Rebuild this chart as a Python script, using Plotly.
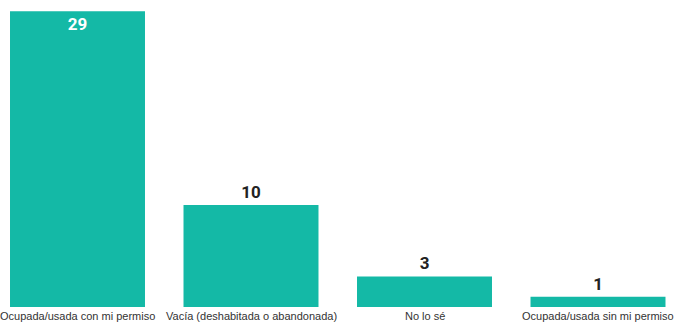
import plotly.graph_objects as go

categories = ["Ocupada/usada con mi permiso", "Vacía (deshabitada o abandonada)", "No lo sé", "Ocupada/usada sin mi permiso"]
values = [29, 10, 3, 1]
text_colors = ["white", "#222222", "#222222", "#222222"]
text_positions = ["inside", "outside", "outside", "outside"]

fig = go.Figure(go.Bar(
    x=list(range(len(categories))),
    y=values,
    text=[str(v) for v in values],
    textposition=text_positions,
    insidetextanchor="end",
    textfont=dict(family="Roboto, Liberation Sans, Arial", size=17, color=text_colors),
    outsidetextfont=dict(family="Roboto, Liberation Sans, Arial", size=17, color="#222222"),
    insidetextfont=dict(family="Roboto, Liberation Sans, Arial", size=17, color="white"),
    marker=dict(color="#14B9A6", line=dict(width=0)),
    cliponaxis=False,
    texttemplate="<b>%{text}</b>",
    hoverinfo="skip",
))

for i, c in enumerate(categories):
    fig.add_annotation(
        x=i, y=0, xref="x", yref="y", text=c, showarrow=False,
        yanchor="top", yshift=-1,
        font=dict(family="Liberation Sans Narrow, Liberation Sans, Arial", size=11, color="#333333"),
    )

fig.update_layout(
    width=675, height=322,
    margin=dict(l=0, r=0, t=0, b=15, autoexpand=False),
    paper_bgcolor="white", plot_bgcolor="white",
    bargap=0.222,
    showlegend=False,
    xaxis=dict(
        range=[-0.4467, 3.4438], showgrid=False, zeroline=False, showline=False,
        showticklabels=False, ticks="", automargin=False,
    ),
    yaxis=dict(range=[0, 30.1], visible=False, automargin=False),
)

fig.write_html(
    "out.html",
    config={"displayModeBar": False},
    post_script="document.body.style.margin='0';document.body.style.overflow='hidden';",
)
